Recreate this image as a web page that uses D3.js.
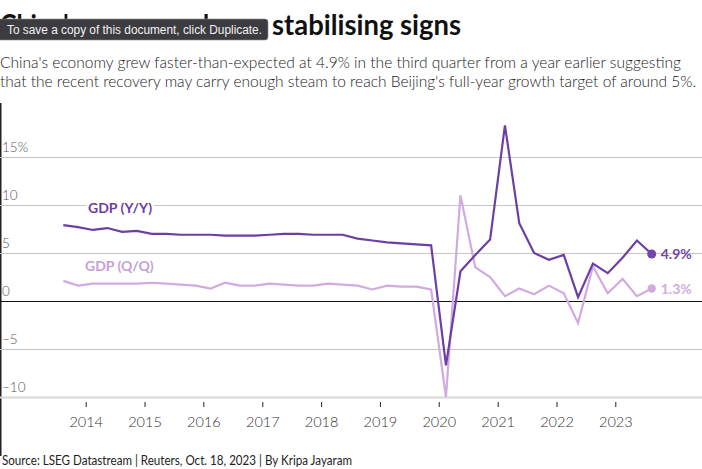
<!DOCTYPE html>
<html>
<head>
<meta charset="utf-8">
<script src="https://cdn.jsdelivr.net/npm/d3@7"></script>
<style>
  html, body { margin: 0; padding: 0; background: #fff; }
  svg { display: block; font-family: Lato, 'Open Sans', sans-serif; }
</style>
</head>
<body>
<div id="chart"></div>
<script>
'use strict';

// quarters shown on the chart (2013 Q3 .. 2023 Q3)
var quarters = [
  '2013 Q3', '2013 Q4',
  '2014 Q1', '2014 Q2', '2014 Q3', '2014 Q4',
  '2015 Q1', '2015 Q2', '2015 Q3', '2015 Q4',
  '2016 Q1', '2016 Q2', '2016 Q3', '2016 Q4',
  '2017 Q1', '2017 Q2', '2017 Q3', '2017 Q4',
  '2018 Q1', '2018 Q2', '2018 Q3', '2018 Q4',
  '2019 Q1', '2019 Q2', '2019 Q3', '2019 Q4',
  '2020 Q1', '2020 Q2', '2020 Q3', '2020 Q4',
  '2021 Q1', '2021 Q2', '2021 Q3', '2021 Q4',
  '2022 Q1', '2022 Q2', '2022 Q3', '2022 Q4',
  '2023 Q1', '2023 Q2', '2023 Q3'
];

// GDP growth, year on year (%)
var gdpYoY = [
  7.9, 7.7,
  7.4, 7.6, 7.2, 7.3,
  7.0, 7.0, 6.9, 6.9,
  6.9, 6.8, 6.8, 6.8,
  6.9, 7.0, 7.0, 6.9,
  6.9, 6.9, 6.5, 6.3,
  6.1, 6.0, 5.9, 5.8,
  -6.7, 3.1, 4.8, 6.4,
  18.3, 8.1, 5.0, 4.3,
  4.8, 0.4, 3.9, 2.9,
  4.5, 6.3, 4.9
];

// GDP growth, quarter on quarter (%)
var gdpQoQ = [
  2.1, 1.6,
  1.8, 1.8, 1.8, 1.8,
  1.9, 1.8, 1.7, 1.6,
  1.3, 1.9, 1.6, 1.6,
  1.8, 1.7, 1.6, 1.6,
  1.8, 1.7, 1.6, 1.2,
  1.6, 1.5, 1.5, 1.2,
  -10.0, 11.0, 3.5, 2.5,
  0.5, 1.3, 0.7, 1.6,
  0.8, -2.3, 3.6, 0.8,
  2.3, 0.5, 1.3
];

var yTicks = [-10, -5, 0, 5, 10, 15];
var yearTicks = [2014, 2015, 2016, 2017, 2018, 2019, 2020, 2021, 2022, 2023];

var titleStart = "China's economy shows";
var titleEnd = 'stabilising signs';
var subtitle = [
  "China's economy grew faster-than-expected at 4.9% in the third quarter from a year earlier suggesting",
  "that the recent recovery may carry enough steam to reach Beijing's full-year growth target of around 5%."
];
var source = 'Source: LSEG Datastream | Reuters, Oct. 18, 2023 | By Kripa Jayaram';
var tooltip = 'To save a copy of this document, click Duplicate.';

var colors = { yoy: '#6b3fa3', qoq: '#d1abe0', dotYoy: '#7245ab', qoqLabel: '#c69fd8' };

var width = 702, height = 469;

// quarter label -> middle of the quarter
function quarterDate(label) {
  var parts = label.split(' Q');
  return new Date(+parts[0], (+parts[1] - 1) * 3 + 1, 15);
}

var dates = quarters.map(quarterDate);

var x = d3.scaleTime()
  .domain([new Date(2014, 0, 1), new Date(2023, 0, 1)])
  .range([85.7, 615.3]);

var y = d3.scaleLinear()
  .domain([-10, 15])
  .range([397, 157]);

var svg = d3.select('#chart').append('svg')
  .attr('width', width)
  .attr('height', height);

// left border of the page
svg.append('line')
  .attr('x1', 0.75).attr('x2', 0.75)
  .attr('y1', 103).attr('y2', 456)
  .attr('stroke', '#222')
  .attr('stroke-width', 1.5);

// gridlines + labels
var grid = svg.append('g');
grid.selectAll('line')
  .data(yTicks)
  .enter().append('line')
    .attr('x1', 0).attr('x2', width)
    .attr('y1', function(d) { return y(d) + 0.5; })
    .attr('y2', function(d) { return y(d) + 0.5; })
    .attr('stroke', function(d) { return d === 0 ? '#111' : (d === -10 ? '#d8d8d8' : '#c6c6c6'); })
    .attr('stroke-width', function(d) { return d === -10 ? 2 : 1.2; });

grid.selectAll('text')
  .data(yTicks)
  .enter().append('text')
    .attr('x', 2)
    .attr('y', function(d) { return y(d) - 5; })
    .attr('font-size', 13.5)
    .attr('font-weight', 300)
    .attr('fill', '#555')
    .text(function(d) { return (d < 0 ? '\u2212' + Math.abs(d) : d) + (d === 15 ? '%' : ''); });

// x axis
var xAxis = d3.axisBottom(x)
  .tickValues(yearTicks.map(function(yr) { return new Date(yr, 0, 1); }))
  .tickFormat(d3.timeFormat('%Y'))
  .tickSize(5)
  .tickPadding(10);

var gx = svg.append('g')
  .attr('transform', 'translate(0,402)')
  .call(xAxis);
gx.select('.domain').remove();
gx.selectAll('.tick line').attr('stroke', '#222');
gx.selectAll('.tick text')
  .attr('font-family', 'Lato, sans-serif')
  .attr('font-size', 14.5)
  .attr('font-weight', 300)
  .attr('fill', '#333');

// lines
var line = d3.line()
  .x(function(d, i) { return x(dates[i]); })
  .y(function(d) { return y(d); });

svg.append('path')
  .datum(gdpQoQ)
  .attr('fill', 'none')
  .attr('stroke', colors.qoq)
  .attr('stroke-width', 2.2)
  .attr('d', line);

svg.append('path')
  .datum(gdpYoY)
  .attr('fill', 'none')
  .attr('stroke', colors.yoy)
  .attr('stroke-width', 2.2)
  .attr('d', line);

// end dots and values
var last = quarters.length - 1;
var ends = [
  { v: gdpQoQ[last], color: colors.qoq, r: 4.2 },
  { v: gdpYoY[last], color: colors.dotYoy, r: 4.5 }
];
ends.forEach(function(e) {
  svg.append('circle')
    .attr('cx', x(dates[last]))
    .attr('cy', y(e.v))
    .attr('r', e.r)
    .attr('fill', e.color);
  svg.append('text')
    .attr('x', x(dates[last]) + 9)
    .attr('y', y(e.v) + 5)
    .attr('font-size', 14)
    .attr('font-weight', 700)
    .attr('fill', e.color)
    .text(e.v.toFixed(1) + '%');
});

// series labels (white halo hides the gridline behind)
svg.append('text')
  .attr('x', 88).attr('y', 213)
  .attr('font-size', 14)
  .attr('font-weight', 700)
  .attr('fill', colors.yoy)
  .attr('stroke', '#fff').attr('stroke-width', 5)
  .attr('paint-order', 'stroke')
  .text('GDP (Y/Y)');

svg.append('text')
  .attr('x', 85).attr('y', 271)
  .attr('font-size', 14)
  .attr('font-weight', 700)
  .attr('fill', colors.qoqLabel)
  .attr('stroke', '#fff').attr('stroke-width', 5)
  .attr('paint-order', 'stroke')
  .text('GDP (Q/Q)');

// title block
svg.append('text')
  .attr('x', 0).attr('y', 35)
  .attr('font-size', 28)
  .attr('font-weight', 700)
  .attr('fill', '#111')
  .attr('textLength', 262)
  .attr('lengthAdjust', 'spacingAndGlyphs')
  .text(titleStart);
svg.append('text')
  .attr('x', 272).attr('y', 35)
  .attr('font-size', 28)
  .attr('font-weight', 700)
  .attr('fill', '#111')
  .attr('textLength', 189)
  .attr('lengthAdjust', 'spacingAndGlyphs')
  .text(titleEnd);

var subWidths = [681, 696];
svg.selectAll('text.sub')
  .data(subtitle)
  .enter().append('text')
    .attr('class', 'sub')
    .attr('x', 0)
    .attr('y', function(d, i) { return 68 + i * 19; })
    .attr('font-size', 16)
    .attr('font-weight', 300)
    .attr('fill', '#222')
    .attr('textLength', function(d, i) { return subWidths[i]; })
    .attr('lengthAdjust', 'spacingAndGlyphs')
    .text(function(d) { return d; });

svg.append('text')
  .attr('x', 2).attr('y', 465)
  .attr('font-size', 13.5)
  .attr('fill', '#222')
  .attr('textLength', 350)
  .attr('lengthAdjust', 'spacingAndGlyphs')
  .text(source);

// the overlay box seen in the original capture
var tip = svg.append('g');
tip.append('rect')
  .attr('x', -4).attr('y', 19)
  .attr('width', 272).attr('height', 21)
  .attr('rx', 3)
  .attr('fill', '#3c3b40')
  .attr('stroke', '#8a8a8e')
  .attr('stroke-width', 0.6);
tip.append('text')
  .attr('x', 7).attr('y', 33.5)
  .attr('font-family', "'Liberation Sans', Arial, sans-serif")
  .attr('font-size', 12)
  .attr('fill', '#f2f2f2')
  .attr('textLength', 255)
  .attr('lengthAdjust', 'spacingAndGlyphs')
  .text(tooltip);
</script>
</body>
</html>
